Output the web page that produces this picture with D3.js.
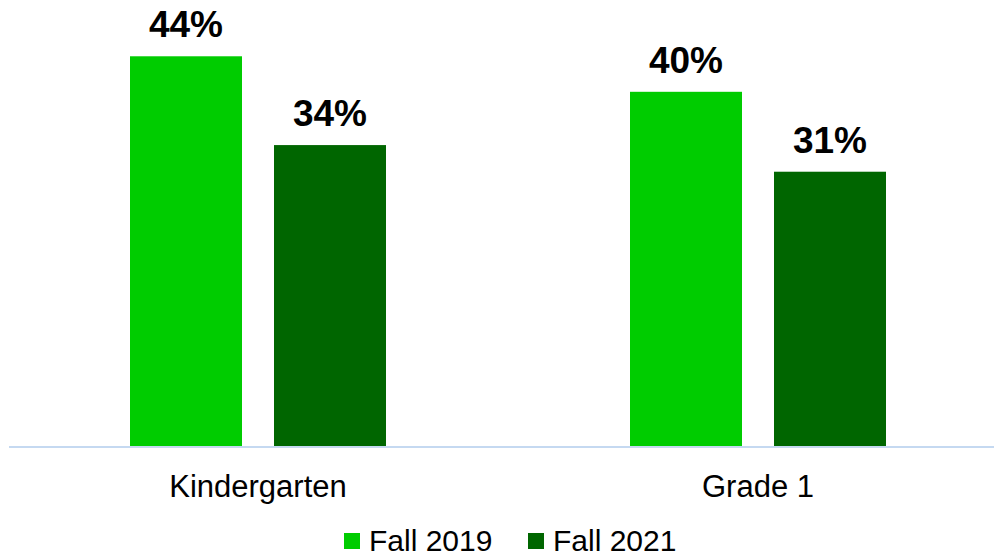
<!DOCTYPE html>
<html><head><meta charset="utf-8">
<script src="https://cdn.jsdelivr.net/npm/d3@7"></script>
<style>html,body{margin:0;padding:0;background:#fff;}svg{display:block;}</style>
</head><body>
<script>
const categories = ["Kindergarten", "Grade 1"];
const seriesNames = ["Fall 2019", "Fall 2021"];
const fall2019 = [44, 40];
const fall2021 = [34, 31];
const colors = ["#00cc00", "#006600"];

const W = 994, H = 558;
const svg = d3.select("body").append("svg").attr("width", W).attr("height", H);

const x = d3.scaleBand().domain(categories).range([8, 1008]);
const xs = d3.scaleBand().domain(seriesNames).range([122, 378]).paddingInner(32 / 144);
const y = d3.scaleLinear().domain([0, 50]).range([447, 3]);

const data = categories.map((c, i) => ({cat: c, vals: [fall2019[i], fall2021[i]]}));

const g = svg.append("g");
data.forEach(d => {
  d.vals.forEach((v, j) => {
    const bx = x(d.cat) + xs(seriesNames[j]);
    g.append("rect")
      .attr("x", bx).attr("y", y(v))
      .attr("width", xs.bandwidth()).attr("height", y(0) - y(v))
      .attr("fill", colors[j]);
    g.append("text")
      .attr("x", bx + xs.bandwidth() / 2).attr("y", y(v) - 19)
      .attr("text-anchor", "middle")
      .attr("font-family", "Liberation Sans, Arial, sans-serif")
      .attr("font-weight", "bold").attr("font-size", 37)
      .attr("fill", "#000")
      .text(v + "%");
  });
});

// axis line
svg.append("line").attr("x1", 9).attr("x2", W).attr("y1", 447).attr("y2", 447)
  .attr("stroke", "#c5d9f1").attr("stroke-width", 2);

// category labels via axis
const ax = svg.append("g").attr("transform", "translate(0,447)")
  .call(d3.axisBottom(x).tickSize(0).tickPadding(0));
ax.select(".domain").remove();
ax.selectAll("text")
  .attr("y", 50).attr("dy", 0)
  .attr("font-family", "Liberation Sans, Arial, sans-serif")
  .attr("font-size", 31).attr("fill", "#000");

// legend
const legX = [344, 528];
const leg = svg.append("g");
seriesNames.forEach((s, j) => {
  leg.append("rect").attr("x", legX[j]).attr("y", 533).attr("width", 16).attr("height", 16).attr("fill", colors[j]);
  leg.append("text").attr("x", legX[j] + 25).attr("y", 551)
    .attr("font-family", "Liberation Sans, Arial, sans-serif")
    .attr("font-size", 30).attr("fill", "#000").text(s);
});
</script>
</body></html>
